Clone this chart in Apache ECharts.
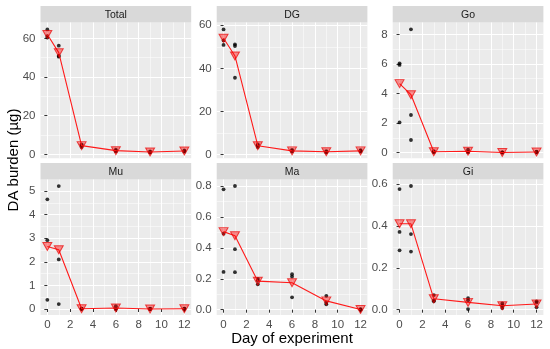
<!DOCTYPE html>
<html><head><meta charset="utf-8">
<script src="https://cdn.jsdelivr.net/npm/echarts@6/dist/echarts.min.js"></script>
<style>html,body{margin:0;padding:0;background:#fff}#c{width:550px;height:349px}</style>
</head><body><div id="c"></div>
<script>
// ---- data ----
const days = [0, 1, 3, 6, 9, 12];
const panelNames = ["Total", "DG", "Go", "Mu", "Ma", "Gi"];
const xTicks = [0, 2, 4, 6, 8, 10, 12];
const xMinorTicks = [1, 3, 5, 7, 9, 11];
const xLimits = [-0.6, 12.6];

// individual observations per day (3 replicates)
const totalObs = [[64.6, 61.2, 60.4], [56.2, 51.0, 50.5], [5.2, 4.4, 3.8], [2.4, 1.9, 1.5], [1.5, 1.2, 0.9], [2.0, 1.7, 1.4]];
const dgObs    = [[58.1, 53.0, 50.9], [51.2, 50.4, 35.7], [4.8, 4.2, 3.6], [2.2, 1.8, 1.5], [1.7, 1.3, 1.1], [2.1, 1.8, 1.5]];
const goObs    = [[6.04, 5.93, 2.05], [8.34, 2.55, 0.86], [0.10, 0.06, 0.04], [0.20, 0.06, 0.04], [0.03, 0.02, 0.01], [0.08, 0.05, 0.02]];
const muObs    = [[4.65, 2.92, 0.39], [5.21, 2.10, 0.21], [0.02, 0.01, 0.00], [0.12, 0.01, 0.00], [0.01, 0.00, 0.00], [0.02, 0.01, 0.00]];
const maObs    = [[0.780, 0.493, 0.245], [0.802, 0.392, 0.243], [0.200, 0.190, 0.165], [0.230, 0.215, 0.080], [0.090, 0.045, 0.035], [0.003, 0.000, 0.000]];
const giObs    = [[0.577, 0.372, 0.284], [0.592, 0.362, 0.278], [0.070, 0.045, 0.040], [0.055, 0.045, 0.003], [0.030, 0.020, 0.008], [0.040, 0.035, 0.012]];

// means per day
const totalMean = [62.0, 52.6, 4.5, 1.9, 1.2, 1.7];
const dgMean    = [54.0, 45.8, 4.2, 1.8, 1.4, 1.8];
const goMean    = [4.67, 3.92, 0.07, 0.10, 0.02, 0.05];
const muMean    = [2.65, 2.51, 0.01, 0.04, 0.00, 0.01];
const maMean    = [0.506, 0.479, 0.185, 0.175, 0.057, 0.001];
const giMean    = [0.411, 0.411, 0.052, 0.035, 0.019, 0.027];

// y axis ticks / limits per panel
const totalTicks = [0, 20, 40, 60],         totalMinor = [10, 30, 50],          totalLim = [-2.0, 68.2];
const dgTicks    = [0, 20, 40, 60],         dgMinor    = [10, 30, 50],          dgLim    = [-1.6, 61.3];
const goTicks    = [0, 2, 4, 6, 8],         goMinor    = [1, 3, 5, 7],          goLim    = [-0.37, 8.80];
const muTicks    = [0, 1, 2, 3, 4, 5],      muMinor    = [0.5, 1.5, 2.5, 3.5, 4.5], muLim = [-0.254, 5.49];
const maTicks    = [0, 0.2, 0.4, 0.6, 0.8], maMinor    = [0.1, 0.3, 0.5, 0.7],  maLim    = [-0.0344, 0.844];
const giTicks    = [0, 0.2, 0.4, 0.6],      giMinor    = [0.1, 0.3, 0.5],       giLim    = [-0.0254, 0.623];

const yTitle = "DA burden (µg)";
const xTitle = "Day of experiment";

// ---- layout ----
const FONT = '"Liberation Sans", Arial, sans-serif';
const colLeft = [40.5, 216.7, 392.7];
const panelW = 150.7;
const rowTop = [22.5, 179.5];
const rowH = [135.7, 135.5];
const stripH = 16.5;

const panels = [
  {obs: totalObs, mean: totalMean, ticks: totalTicks, minor: totalMinor, lim: totalLim, dec: 0},
  {obs: dgObs,    mean: dgMean,    ticks: dgTicks,    minor: dgMinor,    lim: dgLim,    dec: 0},
  {obs: goObs,    mean: goMean,    ticks: goTicks,    minor: goMinor,    lim: goLim,    dec: 0},
  {obs: muObs,    mean: muMean,    ticks: muTicks,    minor: muMinor,    lim: muLim,    dec: 0},
  {obs: maObs,    mean: maMean,    ticks: maTicks,    minor: maMinor,    lim: maLim,    dec: 1},
  {obs: giObs,    mean: giMean,    ticks: giTicks,    minor: giMinor,    lim: giLim,    dec: 1}
];

const grid = [], xAxis = [], yAxis = [], series = [], graphic = [];
const tickColor = '#333333', labelColor = '#4D4D4D';

panels.forEach((p, i) => {
  const row = Math.floor(i / 3), col = i % 3;
  grid.push({
    left: colLeft[col], top: rowTop[row], width: panelW, height: rowH[row],
    show: true, backgroundColor: '#EBEBEB', borderWidth: 0,
    containLabel: false, outerBoundsMode: 'none'
  });
  const bottomRow = row === 1;
  xAxis.push({
    type: 'value', gridIndex: i, min: xLimits[0], max: xLimits[1], position: 'bottom',
    axisLine: {show: false},
    axisTick: {show: bottomRow, customValues: xTicks, length: 3, lineStyle: {color: tickColor, width: 1}},
    axisLabel: {show: bottomRow, customValues: xTicks, margin: 4, color: labelColor, fontSize: 11.5, fontFamily: FONT},
    splitLine: {show: true, lineStyle: {color: '#FFFFFF', width: 1.1}},
    z: 1
  });
  xAxis.push({
    type: 'value', gridIndex: i, min: xLimits[0], max: xLimits[1], position: 'bottom',
    axisLine: {show: false},
    axisTick: {show: false, customValues: xMinorTicks},
    axisLabel: {show: false},
    splitLine: {show: true, lineStyle: {color: '#FFFFFF', width: 0.5}},
    z: 0
  });
  const fmt = v => Number(v).toFixed(p.dec);
  yAxis.push({
    type: 'value', gridIndex: i, min: p.lim[0], max: p.lim[1],
    axisLine: {show: false},
    axisTick: {show: true, customValues: p.ticks, length: 3, lineStyle: {color: tickColor, width: 1}},
    axisLabel: {show: true, customValues: p.ticks, margin: 5, color: labelColor, fontSize: 11.5, fontFamily: FONT, formatter: fmt},
    splitLine: {show: true, lineStyle: {color: '#FFFFFF', width: 1.1}},
    z: 1
  });
  yAxis.push({
    type: 'value', gridIndex: i, min: p.lim[0], max: p.lim[1],
    axisLine: {show: false},
    axisTick: {show: false, customValues: p.minor},
    axisLabel: {show: false},
    splitLine: {show: true, lineStyle: {color: '#FFFFFF', width: 0.5}},
    z: 0
  });
  const pts = [];
  days.forEach((d, k) => p.obs[k].forEach(v => pts.push([d, v])));
  series.push({
    type: 'scatter', xAxisIndex: 2 * i, yAxisIndex: 2 * i, data: pts,
    symbol: 'circle', symbolSize: 3.8, itemStyle: {color: '#000000'},
    clip: false, z: 2, silent: true
  });
  series.push({
    type: 'line', xAxisIndex: 2 * i, yAxisIndex: 2 * i,
    data: days.map((d, k) => [d, p.mean[k]]),
    symbol: 'triangle', symbolRotate: 180, symbolSize: [9, 8], showSymbol: true,
    itemStyle: {color: 'rgba(255,0,0,0.42)', borderColor: 'rgba(235,0,0,0.7)', borderWidth: 1},
    lineStyle: {color: '#FF1A1A', width: 1.1},
    clip: false, z: 3, silent: true
  });
  graphic.push({
    type: 'rect', shape: {x: colLeft[col], y: rowTop[row] - stripH, width: panelW, height: stripH},
    style: {fill: '#D9D9D9'}, silent: true
  });
  graphic.push({
    type: 'text', x: colLeft[col] + panelW / 2, y: rowTop[row] - stripH / 2 + 0.5,
    style: {text: panelNames[i], font: '10.5px ' + FONT, fill: '#1A1A1A',
            align: 'center', verticalAlign: 'middle', textAlign: 'center', textVerticalAlign: 'middle'},
    silent: true
  });
});

graphic.push({
  type: 'text', x: 14, y: 160, rotation: Math.PI / 2,
  style: {text: yTitle, font: '15px ' + FONT, fill: '#000000',
          align: 'center', verticalAlign: 'middle', textAlign: 'center', textVerticalAlign: 'middle'},
  silent: true
});
graphic.push({
  type: 'text', x: 292, y: 339,
  style: {text: xTitle, font: '15px ' + FONT, fill: '#000000',
          align: 'center', verticalAlign: 'middle', textAlign: 'center', textVerticalAlign: 'middle'},
  silent: true
});

const chart = echarts.init(document.getElementById('c'), null, {renderer: 'canvas'});
chart.setOption({
  animation: false,
  backgroundColor: '#FFFFFF',
  grid, xAxis, yAxis, series, graphic
});
</script>
</body></html>
